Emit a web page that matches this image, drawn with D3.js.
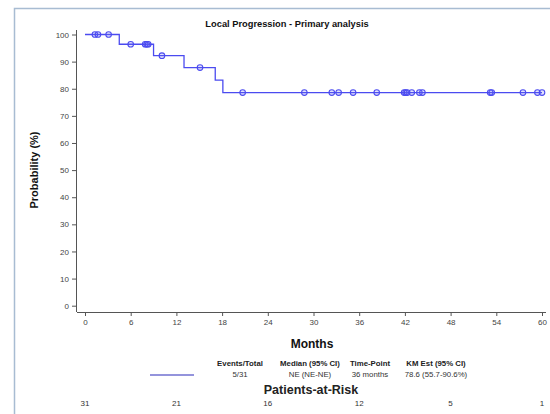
<!DOCTYPE html>
<html>
<head>
<meta charset="utf-8">
<script src="https://cdn.jsdelivr.net/npm/d3@7"></script>
<style>
  body { margin: 0; background: #fff; }
  text { font-family: "Liberation Sans", Arial, sans-serif; }
</style>
</head>
<body>
<div id="svg"></div>
<script>
var w = 550;
var h = 414;

// KM steps (month, survival %) and censored months
var eventMonths = [0, 4.5, 9.0, 13.0, 17.1, 18.1];
var survival = [100, 96.4, 92.2, 87.8, 83.2, 78.6];
var censorMonths = [1.3, 1.7, 3.1, 6.0, 7.9, 8.1, 8.3, 10.1, 15.1, 20.7, 28.8, 32.4, 33.3,
                    35.2, 38.3, 41.9, 42.1, 42.3, 42.9, 43.9, 44.3, 53.2, 53.4, 57.5, 59.4, 60.0];
var xTicks = [0, 6, 12, 18, 24, 30, 36, 42, 48, 54, 60];
var yTicks = [0, 10, 20, 30, 40, 50, 60, 70, 80, 90, 100];
var riskMonths = [0, 12, 24, 36, 48, 60];
var riskCounts = [31, 21, 16, 12, 5, 1];
var legendHeads = ['Events/Total', 'Median (95% CI)', 'Time-Point', 'KM Est (95% CI)'];
var legendVals = ['5/31', 'NE (NE-NE)', '36 months', '78.6 (55.7-90.6%)'];

var blue = '#4b4bf0';

const svg = d3.select('#svg')
              .append('svg')
              .attr('width', w)
              .attr('height', h)

// outer frame
svg.append('rect')
    .attr('x', 14.5).attr('y', 8.5)
    .attr('width', 600).attr('height', 500)
    .attr('fill', 'none')
    .attr('stroke', '#a8bcd2')
    .attr('stroke-width', 1.5)

var x = d3.scaleLinear().domain([0, 60]).range([85, 542]);
var y = d3.scaleLinear().domain([0, 100]).range([305.7, 34.5]);

// axes
svg.append('g')
    .attr('transform', 'translate(0,312)')
    .call(d3.axisBottom(x).tickValues(xTicks).tickSize(4).tickSizeOuter(0))
    .call(g => g.select('.domain').attr('d', 'M77,0.5H546'))
    .attr('color', '#555')
    .attr('font-size', 8)

svg.append('g')
    .attr('transform', 'translate(77,0)')
    .call(d3.axisLeft(y).tickValues(yTicks).tickSize(5).tickSizeOuter(0))
    .call(g => g.select('.domain').attr('d', 'M-0.5,30V312'))
    .attr('color', '#555')
    .attr('font-size', 8)

svg.selectAll('.tick text').attr('fill', '#444');

// step curve
var pts = [];
eventMonths.forEach((m, i) => pts.push([m, survival[i]]));
pts.push([60, survival[survival.length - 1]]);

svg.append('path')
    .datum(pts)
    .attr('d', d3.line().x(d => x(d[0])).y(d => y(d[1])).curve(d3.curveStepAfter))
    .attr('fill', 'none')
    .attr('stroke', blue)
    .attr('stroke-width', 1.3)

function survAt(m) {
  var s = 100;
  eventMonths.forEach((e, i) => { if (e <= m) s = survival[i]; });
  return s;
}

svg.selectAll('circle.cens')
    .data(censorMonths)
    .enter()
    .append('circle')
    .attr('class', 'cens')
    .attr('cx', d => x(d))
    .attr('cy', d => y(survAt(d)))
    .attr('r', 2.8)
    .attr('fill', 'rgba(110,110,240,0.2)')
    .attr('stroke', blue)
    .attr('stroke-width', 1.1)

// titles
svg.append('text')
    .attr('x', 287).attr('y', 27)
    .attr('text-anchor', 'middle')
    .style('font-size', '9.3px').style('font-weight', 'bold')
    .attr('fill', '#111')
    .text('Local Progression - Primary analysis')

svg.append('text')
    .attr('x', 312).attr('y', 348)
    .attr('text-anchor', 'middle')
    .style('font-size', '12px').style('font-weight', 'bold')
    .attr('fill', '#111')
    .text('Months')

svg.append('text')
    .attr('transform', 'rotate(-90)')
    .attr('x', -170).attr('y', 38)
    .attr('text-anchor', 'middle')
    .style('font-size', '11px').style('font-weight', 'bold')
    .attr('fill', '#111')
    .text('Probability (%)')

// legend
svg.append('line')
    .attr('x1', 150).attr('x2', 194)
    .attr('y1', 375).attr('y2', 375)
    .attr('stroke', '#7070d0').attr('stroke-width', 1.3)

var legX = [240, 310, 370, 436];
svg.selectAll('text.lh')
    .data(legendHeads)
    .enter()
    .append('text')
    .attr('class', 'lh')
    .attr('x', (d, i) => legX[i]).attr('y', 366)
    .attr('text-anchor', 'middle')
    .style('font-size', '7.8px').style('font-weight', 'bold')
    .attr('fill', '#222')
    .text(d => d)

svg.selectAll('text.lv')
    .data(legendVals)
    .enter()
    .append('text')
    .attr('class', 'lv')
    .attr('x', (d, i) => legX[i]).attr('y', 377)
    .attr('text-anchor', 'middle')
    .style('font-size', '7.8px')
    .attr('fill', '#333')
    .text(d => d)

// patients at risk
svg.append('text')
    .attr('x', 311).attr('y', 394)
    .attr('text-anchor', 'middle')
    .style('font-size', '12.5px').style('font-weight', 'bold')
    .attr('fill', '#222')
    .text('Patients-at-Risk')

svg.selectAll('text.risk')
    .data(riskCounts)
    .enter()
    .append('text')
    .attr('class', 'risk')
    .attr('x', (d, i) => x(riskMonths[i])).attr('y', 406)
    .attr('text-anchor', 'middle')
    .style('font-size', '8px')
    .attr('fill', '#333')
    .text(d => d)
</script>
</body>
</html>
